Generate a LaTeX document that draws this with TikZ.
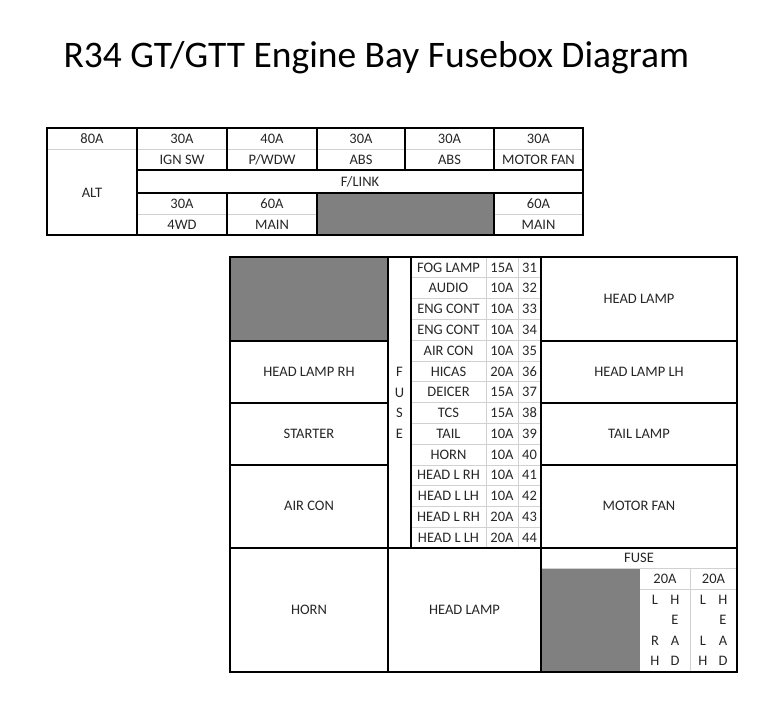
\documentclass[tikz,border=0pt]{standalone}
\usepackage{fontspec}
\setmainfont{Carlito}
\begin{document}
\begin{tikzpicture}[x=1pt,y=-1pt,
  heavy/.style={draw=black,line width=1.4pt},
  light/.style={draw=black!18,line width=0.6pt},
  grayfill/.style={fill=black!50},
  txt/.style={font=\fontsize{14.5}{16}\selectfont,text=black!85,inner sep=0pt}]
\useasboundingbox (0,0) rectangle (768,716);
\node[font=\fontsize{37.5}{40}\selectfont,anchor=west] (title) at (60,58) {R34 GT/GTT Engine Bay Fusebox Diagram};
% ---------- top table ----------
\fill[grayfill] (317,193) rectangle (494,235);
\draw[light] (47,149) -- (137,149);
\draw[light] (137,149) -- (583,149);
\draw[light] (137,214) -- (317,214);
\draw[light] (494,214) -- (583,214);
\draw[heavy] (47,128) rectangle (583,235);
\draw[heavy] (137,128) -- (137,235);
\foreach \x in {227,317,405,494} \draw[heavy] (\x,128) -- (\x,170);
\draw[heavy] (137,170) -- (583,170);
\draw[heavy] (137,193) -- (583,193);
\draw[heavy] (227,193) -- (227,235);
\draw[heavy] (317,193) -- (317,235);
\draw[heavy] (494,193) -- (494,235);
\node[txt] (t80) at (92,139) {80A};
\node[txt] (talt) at (92,193) {ALT};
\node[txt] (t1a) at (182,139) {30A}; \node[txt] (t1b) at (182,160) {IGN SW};
\node[txt] (t2a) at (272,139) {40A}; \node[txt] (t2b) at (272,160) {P/WDW};
\node[txt] (t3a) at (361,139) {30A}; \node[txt] (t3b) at (361,160) {ABS};
\node[txt] (t4a) at (449.5,139) {30A}; \node[txt] (t4b) at (449.5,160) {ABS};
\node[txt] (t5a) at (538.5,139) {30A}; \node[txt] (t5b) at (538.5,160) {MOTOR FAN};
\node[txt] (tfl) at (360,182) {F/LINK};
\node[txt] (t6a) at (182,204) {30A}; \node[txt] (t6b) at (182,225) {4WD};
\node[txt] (t7a) at (272,204) {60A}; \node[txt] (t7b) at (272,225) {MAIN};
\node[txt] (t8a) at (538.5,204) {60A}; \node[txt] (t8b) at (538.5,225) {MAIN};
% ---------- main grid ----------
\fill[grayfill] (230,257) rectangle (388,341);
\fill[grayfill] (541,568) rectangle (640,672);
\foreach \i in {1,...,13} \draw[light] (411,{257+\i*20.79}) -- (541,{257+\i*20.79});
\draw[light] (486,257) -- (486,548);
\draw[light] (518,257) -- (518,548);
\draw[light] (640,589) -- (737,589);
\draw[light] (690,568) -- (690,672);
\draw[light] (541,568) -- (737,568);
\draw[heavy] (230,257) rectangle (737,672);
\draw[heavy] (388,257) -- (388,672);
\draw[heavy] (411,257) -- (411,548);
\draw[heavy] (541,257) -- (541,672);
\draw[heavy] (230,341) -- (388,341);
\draw[heavy] (230,403) -- (388,403);
\draw[heavy] (230,465) -- (388,465);
\draw[heavy] (541,341) -- (737,341);
\draw[heavy] (541,403) -- (737,403);
\draw[heavy] (541,465) -- (737,465);
\draw[heavy] (230,548) -- (737,548);
\node[txt] (hlrh) at (309,372) {HEAD LAMP RH};
\node[txt] (start) at (309,434) {STARTER};
\node[txt] (aircon) at (309,506) {AIR CON};
\node[txt] (hl) at (639,299) {HEAD LAMP};
\node[txt] (hllh) at (639,372) {HEAD LAMP LH};
\node[txt] (tail) at (639,434) {TAIL LAMP};
\node[txt] (mfan) at (639,506) {MOTOR FAN};
\node[txt] (fF) at (399.5,372) {F};
\node[txt] (fU) at (399.5,393) {U};
\node[txt] (fS) at (399.5,413) {S};
\node[txt] (fE) at (399.5,434) {E};
\foreach [count=\i from 0] \n/\a/\k in {FOG LAMP/15A/31,AUDIO/10A/32,ENG CONT/10A/33,ENG CONT/10A/34,AIR CON/10A/35,HICAS/20A/36,DEICER/15A/37,TCS/15A/38,TAIL/10A/39,HORN/10A/40,HEAD L RH/10A/41,HEAD L LH/10A/42,HEAD L RH/20A/43,HEAD L LH/20A/44}{
  \node[txt] (n\k) at (448.5,{267.4+\i*20.79}) {\n};
  \node[txt] (a\k) at (502,{267.4+\i*20.79}) {\a};
  \node[txt] (k\k) at (529.5,{267.4+\i*20.79}) {\k};
}
\node[txt] (horn) at (309,610) {HORN};
\node[txt] (hl2) at (464.5,610) {HEAD LAMP};
\node[txt] (fuse2) at (639,558) {FUSE};
\node[txt] (f20a) at (665,578.5) {20A};
\node[txt] (f20b) at (713.5,578.5) {20A};
\node[txt] (l1) at (655,600) {L}; \node[txt] (h1) at (675,600) {H};
\node[txt] (e1) at (675,620) {E};
\node[txt] (r1) at (655,641) {R}; \node[txt] (a1) at (675,641) {A};
\node[txt] (h1b) at (655,661) {H}; \node[txt] (d1) at (675,661) {D};
\node[txt] (l2) at (703,600) {L}; \node[txt] (h2) at (723,600) {H};
\node[txt] (e2) at (723,620) {E};
\node[txt] (l2b) at (703,641) {L}; \node[txt] (a2) at (723,641) {A};
\node[txt] (h2b) at (703,661) {H}; \node[txt] (d2) at (723,661) {D};
\end{tikzpicture}
\end{document}
